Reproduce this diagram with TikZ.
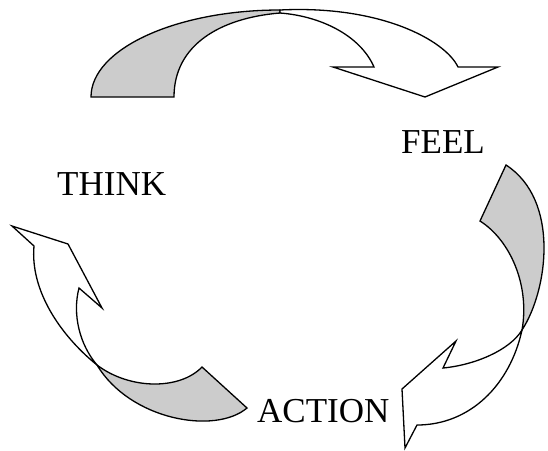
\documentclass[tikz,border=0pt]{standalone}
\usepackage{fontspec}
\setmainfont{Liberation Serif}
\begin{document}
\begin{tikzpicture}[x=1pt,y=-1pt,
  band/.style={draw=black, line width=1.3pt, line join=miter},
  back/.style={band, fill=black!20},
  front/.style={band, fill=white},
  lbl/.style={anchor=base west, inner sep=0pt, font=\fontsize{35}{40}\selectfont}]
\useasboundingbox (0,0) rectangle (548,450);
% top arrow
\path[back] (91,97) .. controls (91,49) and (176,10) .. (280,10)
  -- (280,13) .. controls (220,18) and (174,45) .. (174,97) -- cycle;
\path[front] (280,10) .. controls (380,5) and (445,40) .. (458,67)
  -- (498,67) -- (425,97) -- (333,67) -- (374,67)
  .. controls (360,35) and (320,16) .. (280,13) -- cycle;
% right arrow
\path[back] (506,165) -- (480,221) .. controls (510,240) and (530,285) .. (522,330)
  .. controls (548,290) and (560,200) .. (506,165) -- cycle;
\path[front] (522,330) .. controls (510,385) and (470,425) .. (417,425)
  -- (405,448) -- (402,389) -- (456,341) -- (443,368)
  .. controls (475,365) and (510,350) .. (522,330) -- cycle;
% left arrow
\path[front] (12,226) -- (68,244) -- (102,308) -- (79,288)
  .. controls (72,315) and (80,345) .. (97,365)
  .. controls (60,335) and (30,290) .. (34,246) -- cycle;
\path[back] (97,365) .. controls (130,390) and (180,390) .. (202,367)
  -- (247,408) .. controls (215,435) and (130,420) .. (97,365) -- cycle;
% labels
\node[lbl] (think) at (57,195) {THINK};
\node[lbl] (feel) at (401,153) {FEEL};
\node[lbl] (action) at (257,422) {ACTION};
\end{tikzpicture}
\end{document}
